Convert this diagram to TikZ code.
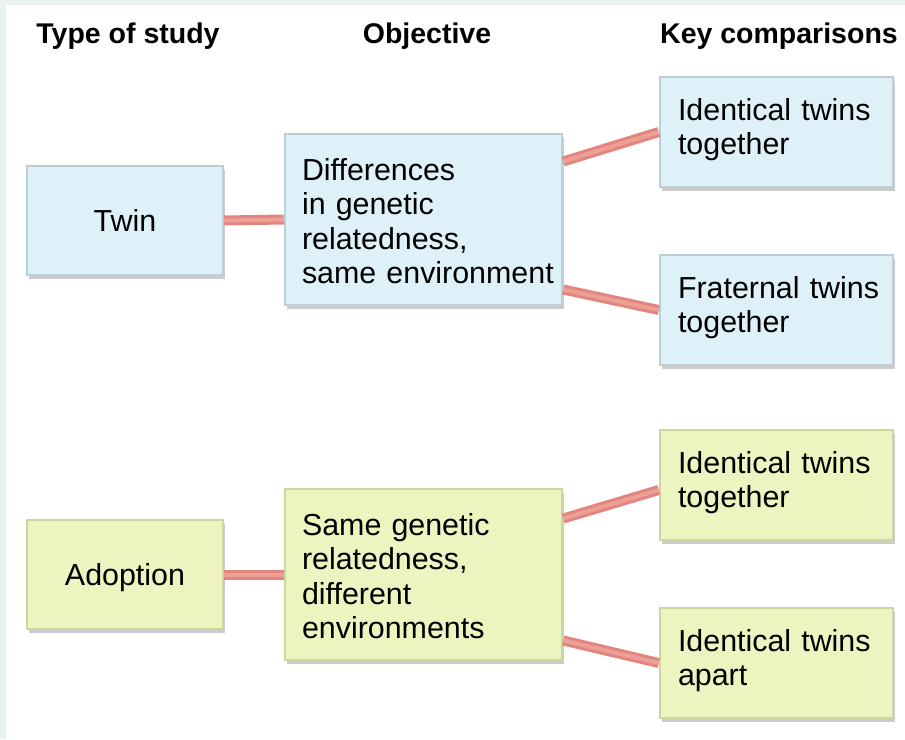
\documentclass[tikz,border=0pt]{standalone}
\usepackage{fontspec}
\setmainfont{Liberation Sans}
\usetikzlibrary{calc,shadows}

\hyphenpenalty=10000
\hfuzz=20pt

\definecolor{framebg}{HTML}{E8F2EF}
\definecolor{bluefill}{HTML}{DFF1F8}
\definecolor{blueedge}{HTML}{BBCFD5}
\definecolor{yellowfill}{HTML}{EEF4BF}
\definecolor{yellowedge}{HTML}{CED69E}
\definecolor{linkred}{HTML}{E3857C}
\definecolor{linklight}{HTML}{EC9F97}

\tikzset{
	box/.style={rectangle, line width=2.5pt, inner xsep=18pt, inner ysep=0pt,
		text height=22pt, text depth=0pt,
		font=\fontsize{30.4}{34.5}\selectfont,
		drop shadow={shadow xshift=2pt, shadow yshift=-4pt, opacity=0.2, fill=black}},
	bluebox/.style={box, fill=bluefill, draw=blueedge},
	yellowbox/.style={box, fill=yellowfill, draw=yellowedge},
	studybox/.style={minimum width=196pt, minimum height=109pt, align=center},
	aimbox/.style={minimum width=277pt, minimum height=171pt, inner xsep=17pt, text width=243pt, align=left, text depth=101pt},
	keybox/.style={minimum width=233pt, minimum height=110pt, text width=197pt, align=left, text depth=46pt},
	link/.style={line width=10pt, draw=linkred, postaction={draw=linklight, line width=4pt}},
	header/.style={anchor=base, font=\bfseries\fontsize{28.5}{33}\selectfont}
}

\begin{document}
\begin{tikzpicture}[x=1pt, y=-1pt]
	%%%%% START %%%%%
	
	\useasboundingbox (0,0) rectangle (905,739);
	\fill[framebg] (0,0) rectangle (905,739);
	\fill[white] (6,5) rectangle (905,739);
	
	\node[header] (hStudy) at (128,43) {Type of study};
	\node[header] (hAim) at (427,43) {Objective};
	\node[header] (hKey) at (779,43) {Key comparisons};
	
	% twin studies
	\node[bluebox, studybox] (twin) at (125,220.5) {Twin};
	\node[bluebox, aimbox] (diff) at (423.5,219.5) {Differences\\in~genetic\\relatedness,\\same~environment};
	\node[bluebox, keybox] (keyA) at (776.5,132) {Identical~twins\\together};
	\node[bluebox, keybox] (keyB) at (776.5,310) {Fraternal~twins\\together};
	
	% adoption studies
	\node[yellowbox, studybox] (adopt) at (125,574.5) {Adoption};
	\node[yellowbox, aimbox] (same) at (423.5,574.5) {Same~genetic\\relatedness,\\different\\environments};
	\node[yellowbox, keybox] (keyC) at (776.5,485) {Identical~twins\\together};
	\node[yellowbox, keybox] (keyD) at (776.5,663) {Identical~twins\\apart};
	
	\draw[link] (twin.east) -- (diff.west);
	\draw[link] ([yshift=58pt]diff.east) -- (keyA.west);
	\draw[link] ([yshift=-70pt]diff.east) -- (keyB.west);
	
	\draw[link] (adopt.east) -- (same.west);
	\draw[link] ([yshift=56pt]same.east) -- ([yshift=-5pt]keyC.west);
	\draw[link] ([yshift=-66pt]same.east) -- (keyD.west);
	
	%%%%% END %%%%%
\end{tikzpicture}
\end{document}
